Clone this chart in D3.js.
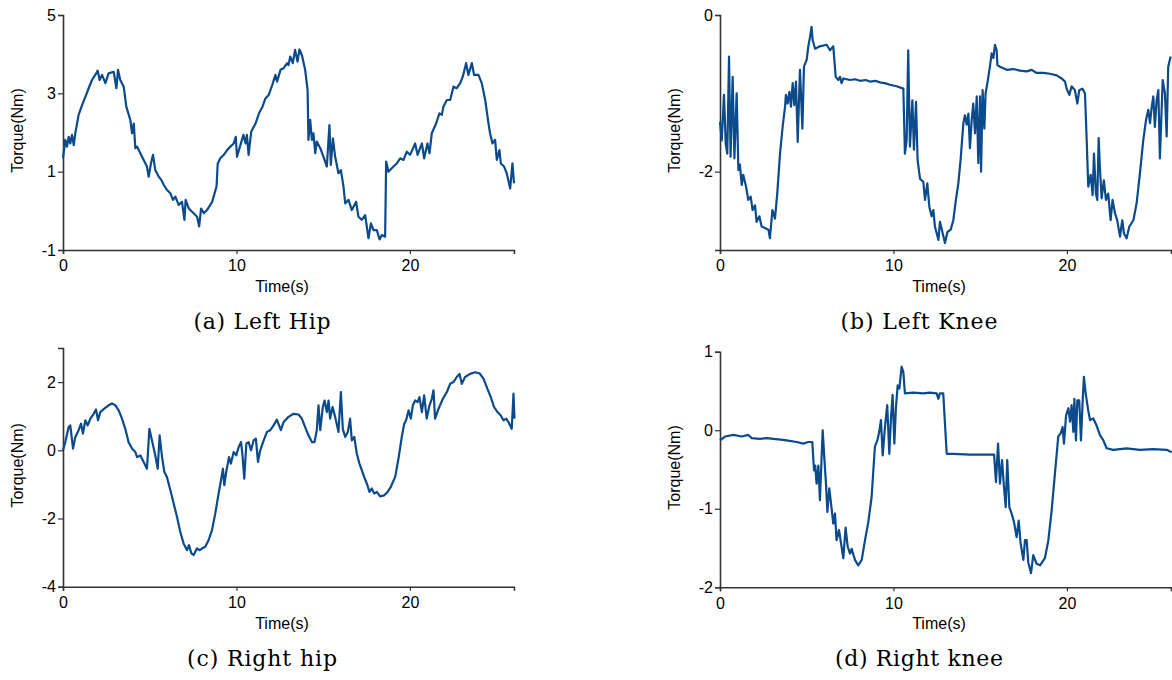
<!DOCTYPE html>
<html>
<head>
<meta charset="utf-8">
<script src="https://cdn.jsdelivr.net/npm/d3@7"></script>
<style>
  body { margin: 0; background: #fff; }
  svg { display: block; }
  .tick text { font-family: "Liberation Sans", Arial, sans-serif; font-size: 16px; fill: #000; }
  .axis-label { font-family: "Liberation Sans", Arial, sans-serif; font-size: 16px; fill: #000; }
  .caption { font-family: "DejaVu Serif", serif; font-size: 22px; fill: #000; }
</style>
</head>
<body>
<div id="chart"></div>
<script>
// Datos: [tiempo (s), par (Nm)]
const leftHip = [[0,1.34],[0.13,1.81],[0.23,1.64],[0.33,1.89],[0.42,1.72],[0.52,1.94],[0.62,1.68],[0.71,1.98],[0.9,2.45],[1.1,2.70],[1.29,2.91],[1.48,3.13],[1.67,3.34],[1.86,3.47],[2.0,3.58],[2.11,3.34],[2.25,3.47],[2.44,3.26],[2.63,3.51],[2.92,3.55],[3.08,3.13],[3.17,3.60],[3.3,3.34],[3.5,3.17],[3.65,2.66],[3.88,2.32],[3.98,1.98],[4.08,2.23],[4.17,1.60],[4.27,1.64],[4.46,1.47],[4.65,1.30],[4.84,1.13],[4.94,0.87],[5.07,1.21],[5.19,1.43],[5.32,1.04],[5.52,0.87],[5.67,0.79],[5.81,0.66],[6.0,0.53],[6.19,0.45],[6.34,0.28],[6.48,0.36],[6.67,0.15],[6.86,0.23],[7.0,-0.23],[7.07,0.28],[7.25,0.06],[7.53,-0.06],[7.73,-0.15],[7.85,-0.40],[7.96,0.06],[8.12,-0.06],[8.3,0.02],[8.6,0.23],[8.85,0.62],[8.92,1.21],[9.07,1.34],[9.27,1.43],[9.46,1.55],[9.65,1.64],[9.84,1.72],[9.96,1.89],[10.03,1.38],[10.2,1.64],[10.4,1.94],[10.53,1.72],[10.6,1.94],[10.7,1.43],[10.85,2.02],[11.1,2.23],[11.3,2.49],[11.5,2.66],[11.67,2.87],[11.86,2.96],[12.06,3.21],[12.25,3.47],[12.34,3.30],[12.54,3.60],[12.71,3.64],[12.92,3.77],[13.0,3.72],[13.1,3.94],[13.25,3.77],[13.38,4.11],[13.52,3.81],[13.63,4.12],[13.77,3.98],[13.96,3.60],[14.1,3.09],[14.15,1.81],[14.25,2.32],[14.35,1.81],[14.44,1.98],[14.54,1.47],[14.63,1.77],[14.83,1.60],[15.02,1.38],[15.21,1.13],[15.36,2.19],[15.44,1.17],[15.56,1.85],[15.69,1.38],[15.88,0.96],[16.02,1.04],[16.17,0.62],[16.27,0.19],[16.46,0.28],[16.65,0.02],[16.9,0.23],[17.03,-0.15],[17.23,-0.23],[17.42,-0.11],[17.61,-0.70],[17.75,-0.32],[17.9,-0.49],[18.09,-0.49],[18.25,-0.73],[18.38,-0.62],[18.57,-0.66],[18.63,1.26],[18.76,1.0],[19.05,1.13],[19.24,1.21],[19.44,1.34],[19.63,1.30],[19.82,1.51],[20.01,1.43],[20.3,1.72],[20.44,1.43],[20.69,1.72],[20.82,1.34],[21.01,1.72],[21.13,1.47],[21.26,1.98],[21.51,2.23],[21.7,2.49],[21.84,2.45],[21.93,2.66],[22.13,2.83],[22.32,2.83],[22.51,3.17],[22.7,3.13],[22.9,3.26],[23.05,3.43],[23.24,3.77],[23.37,3.47],[23.57,3.77],[23.7,3.47],[23.95,3.47],[24.14,3.26],[24.34,2.83],[24.53,2.23],[24.62,1.98],[24.76,1.72],[24.91,1.81],[25.01,1.30],[25.16,1.55],[25.24,1.21],[25.43,1.13],[25.58,0.96],[25.78,0.57],[25.91,1.21],[26.0,0.70]];

const leftKnee = [[0,-1.36],[0.1,-1.60],[0.23,-1.02],[0.33,-1.64],[0.42,-1.77],[0.52,-0.53],[0.61,-1.81],[0.73,-0.79],[0.83,-1.83],[0.96,-1.0],[1.06,-1.98],[1.15,-1.91],[1.25,-2.17],[1.34,-2.04],[1.5,-2.19],[1.63,-2.36],[1.77,-2.32],[1.88,-2.49],[2.02,-2.43],[2.11,-2.64],[2.27,-2.57],[2.4,-2.70],[2.59,-2.72],[2.79,-2.74],[2.88,-2.85],[3.02,-2.49],[3.17,-2.60],[3.3,-2.28],[3.46,-1.77],[3.61,-1.43],[3.75,-1.17],[3.8,-1.02],[3.9,-1.13],[4.0,-0.98],[4.09,-1.17],[4.19,-0.87],[4.28,-1.15],[4.38,-0.85],[4.48,-1.62],[4.61,-0.70],[4.75,-1.45],[4.84,-0.66],[5.0,-0.57],[5.09,-0.40],[5.19,-0.28],[5.28,-0.15],[5.34,-0.32],[5.48,-0.43],[5.76,-0.40],[6.15,-0.38],[6.34,-0.45],[6.53,-0.40],[6.67,-0.79],[6.82,-0.83],[6.92,-0.79],[7.01,-0.87],[7.11,-0.81],[7.49,-0.83],[7.8,-0.82],[8.07,-0.84],[8.4,-0.83],[8.65,-0.85],[8.95,-0.84],[9.22,-0.86],[9.5,-0.87],[9.8,-0.89],[10.18,-0.91],[10.57,-0.94],[10.66,-1.77],[10.76,-1.60],[10.85,-0.45],[10.95,-1.68],[11.09,-1.09],[11.18,-1.72],[11.3,-1.11],[11.39,-1.85],[11.53,-2.09],[11.72,-2.13],[11.82,-2.36],[11.95,-2.15],[12.07,-2.45],[12.2,-2.57],[12.3,-2.49],[12.39,-2.70],[12.59,-2.87],[12.68,-2.64],[12.84,-2.79],[12.97,-2.91],[13.11,-2.77],[13.3,-2.74],[13.45,-2.62],[13.6,-2.36],[13.74,-2.15],[13.87,-1.85],[14.03,-1.38],[14.12,-1.28],[14.22,-1.40],[14.32,-1.26],[14.41,-1.70],[14.51,-1.34],[14.6,-1.13],[14.7,-1.51],[14.8,-1.04],[14.89,-1.89],[14.99,-1.04],[15.05,-2.0],[15.14,-0.96],[15.24,-1.45],[15.31,-1.0],[15.43,-0.85],[15.56,-0.66],[15.66,-0.49],[15.76,-0.55],[15.85,-0.38],[15.95,-0.45],[15.99,-0.64],[16.14,-0.66],[16.53,-0.70],[16.91,-0.69],[17.29,-0.71],[17.68,-0.72],[17.97,-0.70],[18.25,-0.74],[18.64,-0.74],[19.02,-0.75],[19.41,-0.77],[19.7,-0.81],[19.89,-0.85],[19.98,-0.94],[20.14,-1.02],[20.27,-0.91],[20.46,-0.96],[20.6,-1.13],[20.71,-0.96],[20.89,-0.94],[21.04,-1.0],[21.14,-1.60],[21.23,-2.19],[21.37,-2.04],[21.48,-2.30],[21.56,-1.77],[21.67,-2.28],[21.75,-2.36],[21.83,-1.57],[21.9,-1.94],[22.0,-2.34],[22.13,-2.11],[22.25,-2.36],[22.38,-2.28],[22.52,-2.62],[22.63,-2.36],[22.77,-2.53],[22.9,-2.62],[23.06,-2.83],[23.19,-2.62],[23.29,-2.79],[23.44,-2.85],[23.6,-2.70],[23.83,-2.62],[24.02,-2.40],[24.21,-2.02],[24.4,-1.60],[24.56,-1.34],[24.69,-1.21],[24.79,-1.38],[24.88,-1.19],[24.98,-1.04],[25.07,-1.43],[25.17,-1.09],[25.27,-0.96],[25.36,-1.83],[25.52,-0.83],[25.65,-1.0],[25.75,-1.55],[25.84,-0.66],[25.98,-0.53]];

const rightHip = [[0,0],[0.13,0.24],[0.33,0.68],[0.42,0.73],[0.58,0.05],[0.71,0.39],[0.9,0.59],[1.04,0.78],[1.15,0.49],[1.29,0.88],[1.42,0.73],[1.58,0.93],[1.77,1.07],[1.9,1.20],[2.02,0.88],[2.15,1.12],[2.38,1.22],[2.63,1.32],[2.82,1.37],[3.02,1.32],[3.21,1.17],[3.4,0.93],[3.59,0.63],[3.78,0.24],[3.98,0.05],[4.17,-0.05],[4.27,-0.20],[4.46,-0.15],[4.65,-0.34],[4.84,-0.54],[4.98,0.63],[5.13,0.29],[5.32,-0.15],[5.46,-0.54],[5.57,0.44],[5.71,-0.20],[5.84,-0.63],[5.99,-0.78],[6.19,-1.17],[6.38,-1.56],[6.57,-1.95],[6.76,-2.39],[6.95,-2.73],[7.15,-2.93],[7.26,-2.78],[7.4,-3.02],[7.53,-3.07],[7.72,-2.88],[7.88,-2.93],[8.01,-2.88],[8.2,-2.83],[8.4,-2.63],[8.59,-2.34],[8.78,-1.85],[8.97,-1.27],[9.11,-0.88],[9.22,-0.54],[9.3,-1.02],[9.41,-0.63],[9.57,-0.20],[9.68,-0.39],[9.84,-0.05],[9.99,-0.15],[10.13,0.10],[10.26,0.24],[10.34,-0.10],[10.45,-0.83],[10.57,0.20],[10.7,0.24],[10.84,0],[10.99,0.29],[11.12,0.34],[11.24,-0.34],[11.37,0],[11.57,0.29],[11.76,0.54],[11.95,0.59],[12.14,0.73],[12.33,0.90],[12.56,0.59],[12.72,0.83],[13.0,0.98],[13.29,1.07],[13.58,1.05],[13.77,0.93],[13.96,0.68],[14.15,0.44],[14.35,0.24],[14.5,0.24],[14.63,0.59],[14.73,1.32],[14.83,0.59],[14.98,1.27],[15.08,1.46],[15.21,1.12],[15.31,1.46],[15.4,0.93],[15.54,1.27],[15.69,0.98],[15.88,0.54],[16.02,1.71],[16.13,0.63],[16.27,0.39],[16.42,0.54],[16.55,0.93],[16.65,0.29],[16.79,0.39],[16.94,-0.10],[17.09,-0.39],[17.23,-0.59],[17.36,-0.78],[17.52,-0.98],[17.67,-1.22],[17.8,-1.12],[17.94,-1.27],[18.09,-1.22],[18.28,-1.35],[18.52,-1.32],[18.71,-1.22],[18.9,-1.07],[19.15,-0.78],[19.34,-0.24],[19.53,0.39],[19.67,0.78],[19.78,0.88],[19.92,1.17],[20.05,0.93],[20.17,1.32],[20.3,1.46],[20.44,1.41],[20.55,1.56],[20.69,1.12],[20.82,1.61],[20.97,0.93],[21.13,1.32],[21.26,1.51],[21.36,1.76],[21.45,0.93],[21.65,1.22],[21.9,1.51],[22.13,1.71],[22.32,1.95],[22.51,2.0],[22.7,2.15],[22.86,2.24],[22.99,1.95],[23.18,2.15],[23.47,2.24],[23.76,2.29],[24.01,2.26],[24.24,2.10],[24.47,1.80],[24.66,1.56],[24.85,1.27],[25.05,1.12],[25.24,1.02],[25.39,0.88],[25.55,0.93],[25.68,0.83],[25.87,0.63],[25.97,1.66],[26.03,0.93]];

const rightKnee = [[0,-0.13],[0.29,-0.08],[0.77,-0.06],[1.25,-0.08],[1.63,-0.06],[1.83,-0.10],[2.31,-0.11],[2.7,-0.10],[3.07,-0.11],[3.5,-0.12],[3.84,-0.13],[4.42,-0.15],[4.8,-0.17],[5.09,-0.15],[5.32,-0.15],[5.42,-0.51],[5.49,-0.45],[5.57,-0.68],[5.67,-0.45],[5.76,-0.89],[5.92,0.0],[6.01,-0.34],[6.11,-0.68],[6.19,-1.04],[6.3,-0.74],[6.4,-0.93],[6.53,-1.19],[6.63,-1.06],[6.72,-1.40],[6.86,-1.27],[6.95,-1.40],[7.11,-1.63],[7.24,-1.24],[7.36,-1.48],[7.49,-1.57],[7.59,-1.51],[7.78,-1.65],[7.97,-1.72],[8.17,-1.65],[8.36,-1.40],[8.55,-1.17],[8.74,-0.85],[8.93,-0.21],[9.07,-0.13],[9.18,-0.02],[9.28,0.13],[9.38,-0.32],[9.51,0.04],[9.64,0.32],[9.76,-0.30],[9.86,0.17],[9.95,0.45],[10.05,-0.17],[10.14,0.28],[10.24,0.57],[10.34,0.53],[10.47,0.81],[10.57,0.74],[10.66,0.47],[11.14,0.48],[11.72,0.47],[12.1,0.48],[12.49,0.47],[12.59,0.40],[12.68,0.47],[12.87,0.47],[12.97,0.08],[13.07,-0.30],[13.45,-0.30],[14.41,-0.31],[15.37,-0.31],[15.8,-0.31],[15.91,-0.66],[16.03,-0.17],[16.14,-0.68],[16.26,-0.38],[16.37,-0.72],[16.47,-0.98],[16.56,-0.38],[16.68,-0.98],[16.81,-1.06],[16.95,-1.17],[17.1,-1.36],[17.22,-1.15],[17.33,-1.44],[17.49,-1.65],[17.58,-1.40],[17.68,-1.40],[17.77,-1.68],[17.93,-1.82],[18.06,-1.59],[18.25,-1.70],[18.45,-1.72],[18.73,-1.63],[18.93,-1.40],[19.12,-1.02],[19.31,-0.55],[19.5,-0.08],[19.64,-0.04],[19.75,0.04],[19.83,-0.17],[19.95,0.19],[20.08,0.28],[20.18,0.11],[20.27,0.32],[20.37,-0.02],[20.43,0.40],[20.52,-0.13],[20.6,0.38],[20.71,0.38],[20.81,-0.13],[20.91,0.38],[20.98,0.68],[21.08,0.47],[21.23,0.25],[21.33,0.13],[21.52,0.15],[21.71,0.06],[21.9,-0.06],[22.1,-0.13],[22.29,-0.23],[22.67,-0.25],[23.44,-0.23],[24.21,-0.25],[24.98,-0.24],[25.75,-0.25],[26.04,-0.28]];

// Marcas de los ejes
const xTicks = [0, 10, 20];
const leftHipTicks = [-1, 1, 3, 5];
const leftKneeTicks = [-2, 0];
const rightHipTicks = [-4, -2, 0, 2];
const rightKneeTicks = [-2, -1, 0, 1];

const width = 1172;
const height = 680;
const lineColor = "#0b4a8b";

const svg = d3.select("#chart").append("svg")
    .attr("width", width)
    .attr("height", height);

// Configuración de cada panel
const panels = [
    { data: leftHip,   yDomain: [-1, 5], ticks: leftHipTicks,   left: 63,  top: 15,    bottom: 250,   caption: "(a) Left Hip",   capY: 329, capW: 137 },
    { data: leftKnee,  yDomain: [-3, 0], ticks: leftKneeTicks,  left: 720, top: 15,    bottom: 250,   caption: "(b) Left Knee",  capY: 329, capW: 157 },
    { data: rightHip,  yDomain: [-4, 3], ticks: rightHipTicks,  left: 63,  top: 348,   bottom: 586.7, caption: "(c) Right hip",  capY: 666, capW: 150 },
    { data: rightKnee, yDomain: [-2, 1], ticks: rightKneeTicks, left: 720, top: 351.7, bottom: 587.3, caption: "(d) Right knee", capY: 666, capW: 168 }
];

const plotWidth = 451;
// Guion simple en lugar del signo menos unicode
const fmt = d => String(d);

panels.forEach(p => {
    const g = svg.append("g");

    const x = d3.scaleLinear().domain([0, 26]).range([p.left, p.left + plotWidth]);
    const y = d3.scaleLinear().domain(p.yDomain).range([p.bottom, p.top]);

    // Ejes
    g.append("g")
        .attr("class", "x-axis")
        .attr("transform", `translate(0,${p.bottom})`)
        .call(d3.axisBottom(x).tickValues(xTicks).tickFormat(fmt).tickSizeOuter(0).tickSize(4).tickPadding(6));

    g.append("g")
        .attr("class", "y-axis")
        .attr("transform", `translate(${p.left},0)`)
        .call(d3.axisLeft(y).tickValues(p.ticks).tickFormat(fmt).tickSizeOuter(0).tickSize(5).tickPadding(2));

    g.selectAll(".domain").attr("stroke", "#333").attr("stroke-width", 1.6);
    g.selectAll(".tick line").attr("stroke", "#333").attr("stroke-width", 1.2);

    // Línea de par
    const line = d3.line()
        .x(d => x(d[0]))
        .y(d => y(d[1]));

    g.append("path")
        .datum(p.data)
        .attr("fill", "none")
        .attr("stroke", lineColor)
        .attr("stroke-width", 2.2)
        .attr("stroke-linejoin", "round")
        .attr("d", line);

    // Etiquetas de los ejes
    g.append("text")
        .attr("class", "axis-label")
        .attr("text-anchor", "middle")
        .attr("transform", `translate(${p.left - 40},${(p.top + p.bottom) / 2 - 2}) rotate(-90)`)
        .text("Torque(Nm)");

    g.append("text")
        .attr("class", "axis-label")
        .attr("text-anchor", "middle")
        .attr("x", p.left + 219)
        .attr("y", p.bottom + 42)
        .text("Time(s)");

    // Título del subgráfico
    g.append("text")
        .attr("class", "caption")
        .attr("text-anchor", "middle")
        .attr("x", p.left + 199)
        .attr("y", p.capY)
        .attr("textLength", p.capW)
        .attr("lengthAdjust", "spacing")
        .text(p.caption);
});
</script>
</body>
</html>
